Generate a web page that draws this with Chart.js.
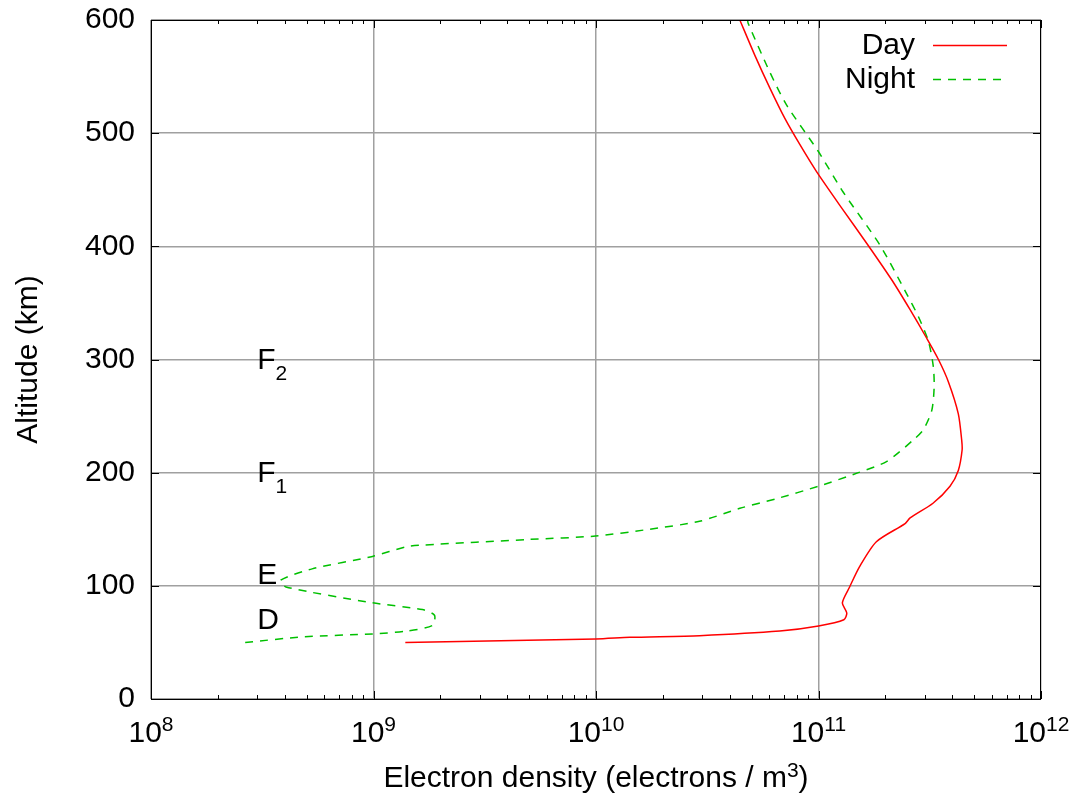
<!DOCTYPE html>
<html lang="en">
<head>
    <meta charset="UTF-8" />
    <title>Ionosphere electron density</title>
    <script src="https://cdn.jsdelivr.net/npm/chart.js"></script>
    <style>
        body { margin: 0; background: #fff; }
        canvas { display: block; }
    </style>
</head>
<body>
<canvas id="densityChart" width="1082" height="800"></canvas>

<script>
    // Day profile: electron density (per m^3) against altitude (km)
    const dayDensity = [1.39e9, 1.0e10, 1.42e10, 2.92e10, 6.7e10, 1.0e11, 1.30e11, 1.34e11, 1.28e11, 1.38e11,
        1.53e11, 1.82e11, 2.45e11, 2.58e11, 3.27e11, 3.90e11, 4.25e11, 4.42e11, 4.40e11, 4.25e11,
        3.84e11, 3.46e11, 3.06e11, 2.58e11, 2.14e11, 1.67e11, 1.27e11, 9.8e10, 8.24e10, 7.06e10,
        6.04e10, 5.17e10, 4.43e10];
    const dayAltitude = [50, 53, 54.5, 56, 60, 64.5, 70, 76, 85, 99,
        117, 139, 155, 160, 173, 188, 202, 220, 229, 252,
        280, 300, 319, 344, 370, 401, 434, 466, 490, 513,
        540, 569, 600];

    // Night profile
    const nightDensity = [2.65e8, 4.89e8, 9.9e8, 1.41e9, 1.84e9, 1.88e9, 1.66e9, 9.9e8, 4.04e8, 3.83e8,
        5.3e8, 9.9e8, 1.40e9, 1.66e9, 5.02e9, 9.96e9, 1.74e10, 2.92e10, 4.43e10, 6.47e10,
        1.0e11, 1.51e11, 2.03e11, 2.67e11, 2.96e11, 3.23e11, 3.31e11, 3.28e11, 3.12e11, 2.81e11,
        2.49e11, 1.89e11, 1.29e11, 9.97e10, 7.18e10, 6.04e10, 4.83e10, 4.8e10];
    const nightAltitude = [50, 55, 57.5, 60, 65, 74, 79, 85, 99, 105,
        115, 126, 134.5, 136, 141, 144, 150, 157, 168.5, 177,
        188, 200, 210, 229, 238, 255, 276, 294, 316, 338,
        358, 401, 448, 484, 525, 554, 597, 600];

    // Axis ticks
    const decadeExponents = [8, 9, 10, 11, 12];
    const minorSteps = [2, 3, 4, 5, 6, 7, 8, 9];
    const altitudeTicks = [0, 100, 200, 300, 400, 500, 600];

    // Layer names placed at 3e8 electrons / m^3
    const layerName = ["D", "E", "F", "F"];
    const layerSub = ["", "", "1", "2"];
    const layerAltitude = [70, 110, 200, 300];
    const layerDensity = 3e8;

    const FAMILY = '"Liberation Sans", Arial, sans-serif';
    const bigFont = "30px " + FAMILY;
    const smallFont = "21px " + FAMILY;

    function toPoints(xs, ys) {
        return xs.map((x, i) => ({ x: x, y: ys[i] }));
    }

    function isDecade(v) {
        const l = Math.log10(v);
        return Math.abs(l - Math.round(l)) < 1e-9;
    }

    // draws base text followed by a raised (or lowered) smaller part
    function drawScript(ctx, base, extra, x, y, shift, align) {
        ctx.font = bigFont;
        const wb = ctx.measureText(base).width;
        ctx.font = smallFont;
        const we = ctx.measureText(extra).width;
        let start = x;
        if (align === "center") start = x - (wb + we) / 2;
        ctx.textAlign = "left";
        ctx.textBaseline = "alphabetic";
        ctx.font = bigFont;
        ctx.fillText(base, start, y);
        ctx.font = smallFont;
        ctx.fillText(extra, start + wb, y + shift);
    }

    const decorations = {
        id: "decorations",
        afterDraw(chart) {
            const ctx = chart.ctx;
            const area = chart.chartArea;
            const xs = chart.scales.x;
            const ys = chart.scales.y;
            ctx.save();
            ctx.fillStyle = "#000";
            ctx.strokeStyle = "#000";
            ctx.lineWidth = 1;

            // frame
            ctx.strokeRect(area.left + 0.5, area.top + 0.5, area.right - area.left - 1, area.bottom - area.top);

            // tick marks on all four sides
            ctx.beginPath();
            xs.ticks.forEach((t) => {
                const px = Math.round(xs.getPixelForValue(t.value)) + 0.5;
                const len = isDecade(t.value) ? 8 : 4;
                ctx.moveTo(px, area.bottom);
                ctx.lineTo(px, area.bottom - len);
                ctx.moveTo(px, area.top);
                ctx.lineTo(px, area.top + len);
            });
            altitudeTicks.forEach((v) => {
                const py = Math.round(ys.getPixelForValue(v)) + 0.5;
                ctx.moveTo(area.left, py);
                ctx.lineTo(area.left + 8, py);
                ctx.moveTo(area.right, py);
                ctx.lineTo(area.right - 8, py);
            });
            ctx.stroke();

            // x tick labels as powers of ten
            decadeExponents.forEach((e) => {
                const px = xs.getPixelForValue(Math.pow(10, e));
                drawScript(ctx, "10", String(e), px, 742, -11, "center");
            });

            // x axis title
            const titleMain = "Electron density (electrons / m";
            ctx.font = bigFont;
            const w1 = ctx.measureText(titleMain).width;
            const w3 = ctx.measureText(")").width;
            ctx.font = smallFont;
            const w2 = ctx.measureText("3").width;
            const cx = (area.left + area.right) / 2;
            const sx = cx - (w1 + w2 + w3) / 2;
            ctx.textAlign = "left";
            ctx.textBaseline = "alphabetic";
            ctx.font = bigFont;
            ctx.fillText(titleMain, sx, 787);
            ctx.font = smallFont;
            ctx.fillText("3", sx + w1, 777);
            ctx.font = bigFont;
            ctx.fillText(")", sx + w1 + w2, 787);

            // y axis title
            ctx.save();
            ctx.translate(37, (area.top + area.bottom) / 2);
            ctx.rotate(-Math.PI / 2);
            ctx.textAlign = "center";
            ctx.font = bigFont;
            ctx.fillText("Altitude (km)", 0, 0);
            ctx.restore();

            // layer names
            layerName.forEach((name, i) => {
                const px = xs.getPixelForValue(layerDensity);
                const py = ys.getPixelForValue(layerAltitude[i]) + 9.5;
                drawScript(ctx, name, layerSub[i], px, py, 11, "left");
            });

            // key
            chart.data.datasets.forEach((ds, i) => {
                const y = 45 + i * 34;
                ctx.font = bigFont;
                ctx.textAlign = "right";
                ctx.textBaseline = "middle";
                ctx.fillStyle = "#000";
                ctx.fillText(ds.label, 915, y + 1);
                ctx.beginPath();
                ctx.strokeStyle = ds.borderColor;
                ctx.lineWidth = ds.borderWidth;
                ctx.setLineDash(ds.borderDash || []);
                ctx.moveTo(933, y + 0.5);
                ctx.lineTo(1007, y + 0.5);
                ctx.stroke();
                ctx.setLineDash([]);
            });
            ctx.restore();
        }
    };

    const ctx = document.getElementById("densityChart").getContext("2d");
    new Chart(ctx, {
        type: "scatter",
        data: {
            datasets: [
                {
                    label: "Day",
                    data: toPoints(dayDensity, dayAltitude),
                    showLine: true,
                    borderColor: "#ff0000",
                    borderWidth: 1.5,
                    pointRadius: 0,
                    tension: 0.25
                },
                {
                    label: "Night",
                    data: toPoints(nightDensity, nightAltitude),
                    showLine: true,
                    borderColor: "#00c000",
                    borderWidth: 1.5,
                    borderDash: [8, 7],
                    pointRadius: 0,
                    tension: 0.25
                }
            ]
        },
        options: {
            responsive: false,
            animation: false,
            layout: { padding: { top: 20, right: 41, left: 0, bottom: 0 } },
            plugins: {
                legend: { display: false },
                tooltip: { enabled: false }
            },
            scales: {
                x: {
                    type: "logarithmic",
                    min: 1e8,
                    max: 1e12,
                    afterBuildTicks: (scale) => {
                        const ticks = [];
                        decadeExponents.forEach((e) => {
                            const base = Math.pow(10, e);
                            ticks.push({ value: base });
                            if (e < decadeExponents[decadeExponents.length - 1]) {
                                minorSteps.forEach((m) => ticks.push({ value: m * base }));
                            }
                        });
                        scale.ticks = ticks;
                    },
                    afterFit: (scale) => {
                        scale.height = 101;
                        scale.paddingLeft = 0;
                        scale.paddingRight = 0;
                    },
                    ticks: { display: false },
                    grid: {
                        drawTicks: false,
                        lineWidth: 1.5,
                        color: (c) => (c.tick && isDecade(c.tick.value) ? "#a0a0a0" : "rgba(0,0,0,0)")
                    },
                    border: { display: false }
                },
                y: {
                    min: 0,
                    max: 600,
                    afterBuildTicks: (scale) => {
                        scale.ticks = altitudeTicks.map((v) => ({ value: v }));
                    },
                    afterFit: (scale) => {
                        scale.width = 151;
                        scale.paddingTop = 0;
                        scale.paddingBottom = 0;
                    },
                    ticks: {
                        color: "#000",
                        padding: 16,
                        font: { family: FAMILY, size: 30 }
                    },
                    grid: { drawTicks: false, lineWidth: 1.5, color: "#a0a0a0" },
                    border: { display: false }
                }
            }
        },
        plugins: [decorations]
    });
</script>
</body>
</html>
